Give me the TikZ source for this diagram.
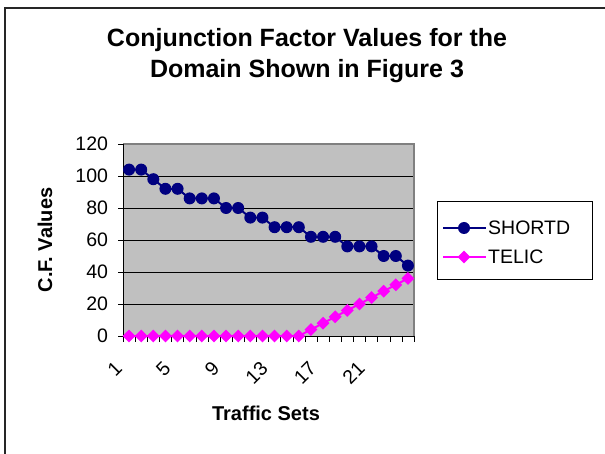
\documentclass[tikz,border=0pt]{standalone}
\usepackage{fontspec}
\setmainfont{Liberation Sans}
\usetikzlibrary{shapes.geometric}
\definecolor{navyS}{RGB}{0,0,128}
\definecolor{pinkT}{RGB}{255,0,255}
\definecolor{areagray}{RGB}{192,192,192}
\definecolor{edgegray}{RGB}{128,128,128}

\begin{document}
\begin{tikzpicture}[x = 1pt, y = -1pt,
		shortdmark/.style = {circle, fill = navyS, inner sep = 0pt, minimum size = 12pt},
		telicmark/.style = {diamond, fill = pinkT, inner sep = 0pt, minimum size = 13pt},
		ticklabel/.style = {font = \fontsize{19.5}{19.5}\selectfont},
		axistitle/.style = {font = \fontsize{20}{20}\selectfont\bfseries}]
			\useasboundingbox (0,0) rectangle (605,454);
			% frame
			\draw[line width = 1.5pt, color = black!85] (5,460)--(5,8)--(610,8);
			% title
			\node[font = \fontsize{25}{31}\selectfont\bfseries, align = center] (title)
			at (307,56){Conjunction Factor Values for the\\Domain Shown in Figure 3};
			\node[axistitle, rotate = 90] (ytitle) at (45,240){C.F. Values};
			\node[axistitle] (xtitle) at (266,413){Traffic Sets};
			\begin{scope}[shift = {(123,336)}, x = 12.125pt, y = 1.6pt]
				\fill[areagray] (0,0) rectangle (24,120);
				\foreach \v in {20,40,...,100}
					\draw[thin, black] (0,\v)--(24,\v);
				\draw[line width = 1.5pt, edgegray] (0,120)--(24,120)--(24,0);
				\draw[thick, black] (0,120)--(0,0)--(24,0);
				\foreach \v in {0,20,...,120}{
					\draw[thick] (0,\v)--(-0.45,\v);
					\node[ticklabel, anchor = east] (yl\v) at (-0.95,\v){\v};
				}
				\foreach \i in {0,...,24}
					\draw[thin] (\i,0)--(\i,-4);
				\foreach \n in {1,5,9,13,17,21}
					\node[ticklabel, rotate = 45, anchor = north east, inner sep = 0pt] (xl\n)
					at (\n-1.75,-15){\n};
				% series
				\foreach \v [count = \i] in {104,104,98,92,92,86,86,86,80,80,74,74,
					68,68,68,62,62,62,56,56,56,50,50,44}
					\coordinate (s\i) at (\i-0.5,\v);
				\foreach \v [count = \i] in {0,0,0,0,0,0,0,0,0,0,0,0,0,0,0,
					4,8,12,16,20,24,28,32,36}
					\coordinate (t\i) at (\i-0.5,\v);
				\draw[line width = 2pt, navyS] (s1) \foreach \i in {2,...,24}{--(s\i)};
				\draw[line width = 2pt, pinkT] (t1) \foreach \i in {2,...,24}{--(t\i)};
				\foreach \i in {1,...,24}{
					\node[shortdmark] (ms\i) at (s\i){};
					\node[telicmark] (mt\i) at (t\i){};
				}
			\end{scope}
			% legend
			\draw[thick, black] (437,201) rectangle (592,279);
			\coordinate (ls1) at (443,228);
			\coordinate (ls2) at (486,228);
			\coordinate (lt1) at (443,257);
			\coordinate (lt2) at (486,257);
			\draw[line width = 2pt, navyS] (ls1)--(ls2);
			\draw[line width = 2pt, pinkT] (lt1)--(lt2);
			\node[shortdmark] (lsm) at (464,228){};
			\node[telicmark] (ltm) at (464,257){};
			\node[ticklabel, anchor = west, inner sep = 1pt] (lstext) at (487,228){SHORTD};
			\node[ticklabel, anchor = west, inner sep = 1pt] (lttext) at (487,257){TELIC};
		\end{tikzpicture}
\end{document}
